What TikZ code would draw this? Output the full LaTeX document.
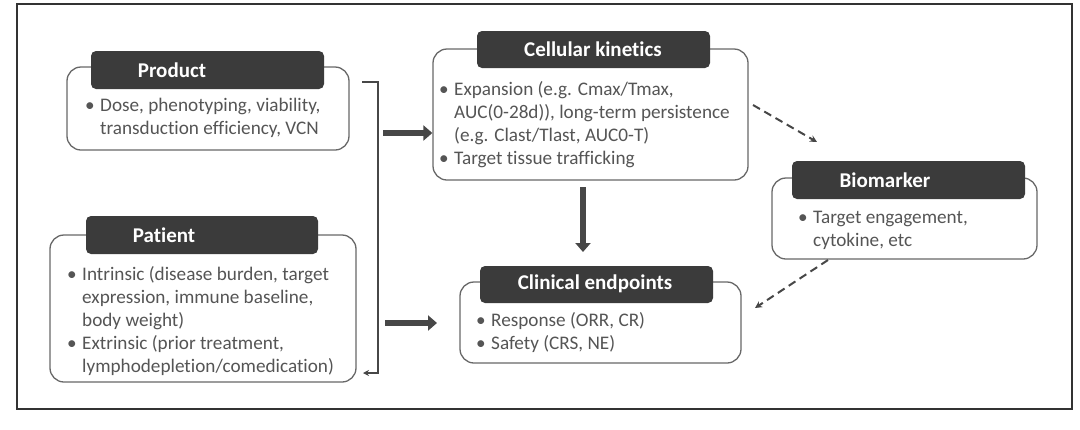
\documentclass[tikz,border=0pt]{standalone}
\usepackage{fontspec}
\setmainfont{Carlito}[Ligatures=NoCommon]
\usetikzlibrary{arrows.meta,calc}
\definecolor{hdr}{HTML}{3B3B3B}
\definecolor{bord}{HTML}{686868}
\definecolor{txt}{HTML}{555555}
\definecolor{arr}{HTML}{474747}
\newcommand{\bl}{\makebox[15pt][l]{•}}
\begin{document}
\begin{tikzpicture}[x=1pt,y=-1pt,
 bodybox/.style={draw=bord, line width=1.3pt, rounded corners=14pt, fill=white, inner sep=0},
 hdrbox/.style={fill=hdr, rounded corners=5pt, inner sep=0},
 hdrtext/.style={text=white, font=\fontsize{21}{22}\selectfont\bfseries, inner sep=0},
 bodytext/.style={anchor=north west, text=txt, inner sep=0, align=left, font=\fontsize{19.2}{23}\selectfont},
 fat/.style={draw=arr, line width=6pt, -{Triangle[width=15pt,length=9pt]}},
 dasharrow/.style={draw=arr, line width=2pt, dash pattern=on 8pt off 5pt, -{Stealth[length=7pt,width=7pt]}},
 bracketline/.style={draw=arr, line width=2pt, -{Stealth[length=6pt,width=6pt]}}
]
\useasboundingbox (0,0) rectangle (1080,429);
\draw[line width=1.2pt, draw=black!80] (17,4) rectangle (1072,409);

% Product
\node[bodybox, minimum width=282, minimum height=83] (prod) at (208,108.5) {};
\node[hdrbox, minimum width=233, minimum height=38] (prodh) at (207.5,70) {};
\node[hdrtext] (prodt) at (172,70) {Product};
\node[bodytext] (prodb) at (85,98) {\bl Dose, phenotyping, viability,\\ \hspace*{15pt}transduction efficiency, VCN};

% Patient
\node[bodybox, minimum width=306, minimum height=147] (pat) at (203,308.5) {};
\node[hdrbox, minimum width=232, minimum height=38] (path) at (202,235) {};
\node[hdrtext] (patt) at (164,235) {Patient};
\node[bodytext] (patb) at (67,266) {\bl Intrinsic (disease burden, target\\ \hspace*{15pt}expression, immune baseline,\\ \hspace*{15pt}body weight)\\ \bl Extrinsic (prior treatment,\\ \hspace*{15pt}lymphodepletion/comedication)};

% Cellular kinetics
\node[bodybox, minimum width=315, minimum height=131] (ck) at (590.5,114.5) {};
\node[hdrbox, minimum width=233, minimum height=37] (ckh) at (593.5,49.5) {};
\node[hdrtext] (ckt) at (593,49) {Cellular kinetics};
\node[bodytext] (ckb) at (439,81) {\bl Expansion (e.g. Cmax/Tmax,\\ \hspace*{15pt}AUC(0-28d)), long-term persistence\\ \hspace*{15pt}(e.g. Clast/Tlast, AUC0-T)\\ \bl Target tissue trafficking};

% Clinical endpoints
\node[bodybox, minimum width=281, minimum height=81] (ce) at (600.5,322.5) {};
\node[hdrbox, minimum width=233, minimum height=37] (ceh) at (596.5,284.5) {};
\node[hdrtext] (cet) at (595,284) {Clinical endpoints};
\node[bodytext] (ceb) at (476,312) {\bl Response (ORR, CR)\\ \bl Safety (CRS, NE)};

% Biomarker
\node[bodybox, minimum width=265, minimum height=81] (bm) at (904.5,218.5) {};
\node[hdrbox, minimum width=233, minimum height=38] (bmh) at (908.5,180) {};
\node[hdrtext] (bmt) at (885,180) {Biomarker};
\node[bodytext] (bmb) at (798,211) {\bl Target engagement,\\ \hspace*{15pt}cytokine, etc};

% bracket
\coordinate (b1) at (362,82);
\coordinate (b2) at (363,373);
\draw[bracketline] (b1) -- ++(16,0) |- (b2);

% thick arrows
\coordinate (f1) at (383,133);
\draw[fat] (f1) -- (f1 -| ck.west);
\coordinate (f2) at (385,323);
\coordinate (f2e) at (437,323);
\draw[fat] (f2) -- (f2e);
\coordinate (v1) at (583,187);
\coordinate (v2) at (583,252);
\draw[fat] (v1) -- (v2);

% dashed arrows
\coordinate (d1) at (753,105);
\coordinate (d1e) at (817,142);
\draw[dasharrow] (d1) -- (d1e);
\coordinate (d2) at (828,260);
\coordinate (d2e) at (755,308);
\draw[dasharrow] (d2) -- (d2e);
\end{tikzpicture}
\end{document}
